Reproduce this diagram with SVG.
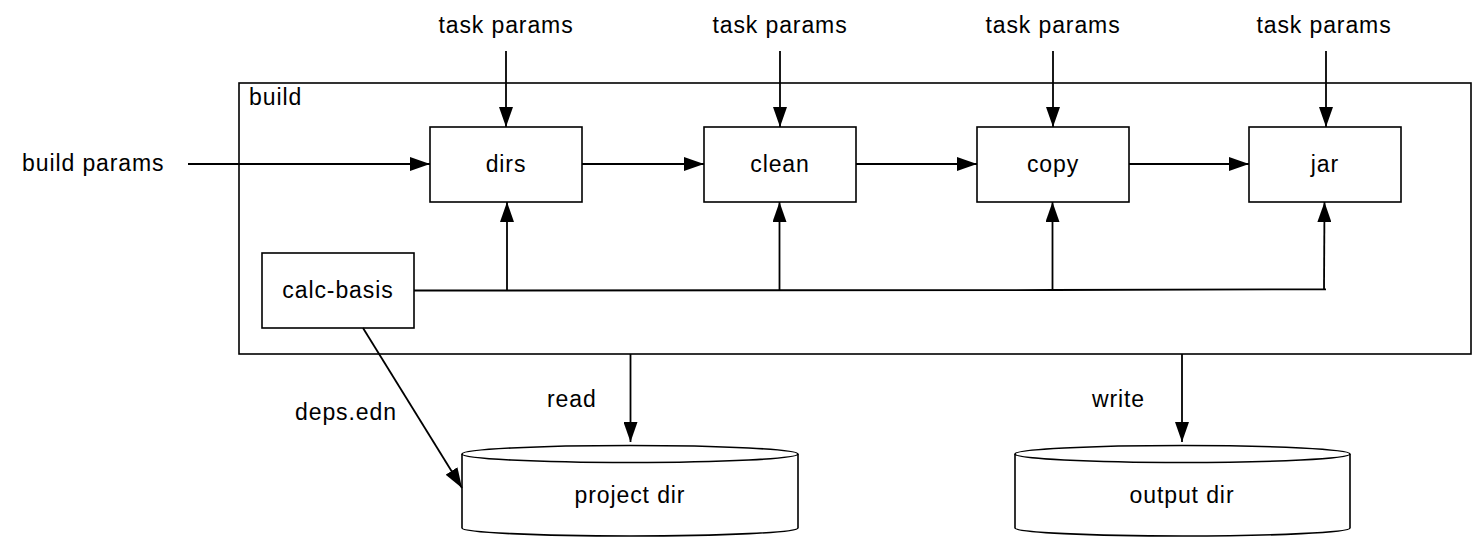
<svg xmlns="http://www.w3.org/2000/svg" width="1472" height="539" viewBox="0 0 1472 539">
<style>
text{font-family:"Liberation Sans",Arial,Helvetica,sans-serif;font-size:23px;letter-spacing:0.9px;fill:#000}
.c{text-anchor:middle}
.box{fill:#fff;stroke:#000;stroke-width:1.6}
.ln{fill:none;stroke:#000;stroke-width:1.8}
.arr{marker-end:url(#ah)}
</style>
<defs>
<marker id="ah" markerUnits="userSpaceOnUse" markerWidth="20" markerHeight="14" refX="20" refY="7" orient="auto" viewBox="0 0 20 14">
<path d="M0,0 L20,7 L0,14 z" fill="#000"/>
</marker>
</defs>
<rect width="1472" height="539" fill="#fff"/>
<g id="build">
<rect class="box" x="239" y="83" width="1232" height="271" fill="none"/>
<text x="249" y="105">build</text>
</g>
<g id="dirs"><rect class="box" x="430" y="127" width="152" height="75"/><text class="c" x="506" y="172">dirs</text></g>
<g id="clean"><rect class="box" x="704" y="127" width="152" height="75"/><text class="c" x="780" y="172">clean</text></g>
<g id="copy"><rect class="box" x="977" y="127" width="152" height="75"/><text class="c" x="1053" y="172">copy</text></g>
<g id="jar"><rect class="box" x="1249" y="127" width="152" height="75"/><text class="c" x="1325" y="172">jar</text></g>
<g id="calc-basis"><rect class="box" x="262" y="253" width="152" height="75"/><text class="c" x="338" y="298">calc-basis</text></g>
<g id="project-dir">
<path class="box" d="M462,454 V528 A168,8 0 0 0 798,528 V454"/>
<ellipse class="box" cx="630" cy="454" rx="168" ry="8.5"/>
<text class="c" x="630" y="503">project dir</text>
</g>
<g id="output-dir">
<path class="box" d="M1015,454 V528 A167.5,8 0 0 0 1350,528 V454"/>
<ellipse class="box" cx="1182.5" cy="454" rx="167.5" ry="8.5"/>
<text class="c" x="1182" y="503">output dir</text>
</g>
<g id="labels">
<text class="c" x="506" y="33">task params</text>
<text class="c" x="780" y="33">task params</text>
<text class="c" x="1053" y="33">task params</text>
<text class="c" x="1324" y="33">task params</text>
<text x="22" y="171">build params</text>
<text x="295" y="420">deps.edn</text>
<text x="547" y="407">read</text>
<text x="1092" y="407">write</text>
</g>
<g id="connectors">
<line class="ln arr" x1="506" y1="51" x2="506" y2="127"/>
<line class="ln arr" x1="780" y1="51" x2="780" y2="127"/>
<line class="ln arr" x1="1053" y1="51" x2="1053" y2="127"/>
<line class="ln arr" x1="1326" y1="51" x2="1326" y2="127"/>
<line class="ln arr" x1="188" y1="164" x2="430" y2="164"/>
<line class="ln arr" x1="582" y1="164" x2="704" y2="164"/>
<line class="ln arr" x1="856" y1="164" x2="977" y2="164"/>
<line class="ln arr" x1="1129" y1="164" x2="1249" y2="164"/>
<path class="ln" d="M414,290.5 H508 L1053,290 L1326,289.3"/>
<line class="ln arr" x1="507" y1="290" x2="507" y2="202"/>
<line class="ln arr" x1="779.5" y1="290" x2="779.5" y2="202"/>
<line class="ln arr" x1="1052.5" y1="291" x2="1052.5" y2="202"/>
<line class="ln arr" x1="1324" y1="289.5" x2="1324.5" y2="202"/>
<line class="ln arr" x1="363" y1="328" x2="462" y2="488"/>
<line class="ln arr" x1="630.5" y1="354" x2="630.5" y2="442"/>
<line class="ln arr" x1="1182" y1="354" x2="1182" y2="442"/>
</g>
</svg>
